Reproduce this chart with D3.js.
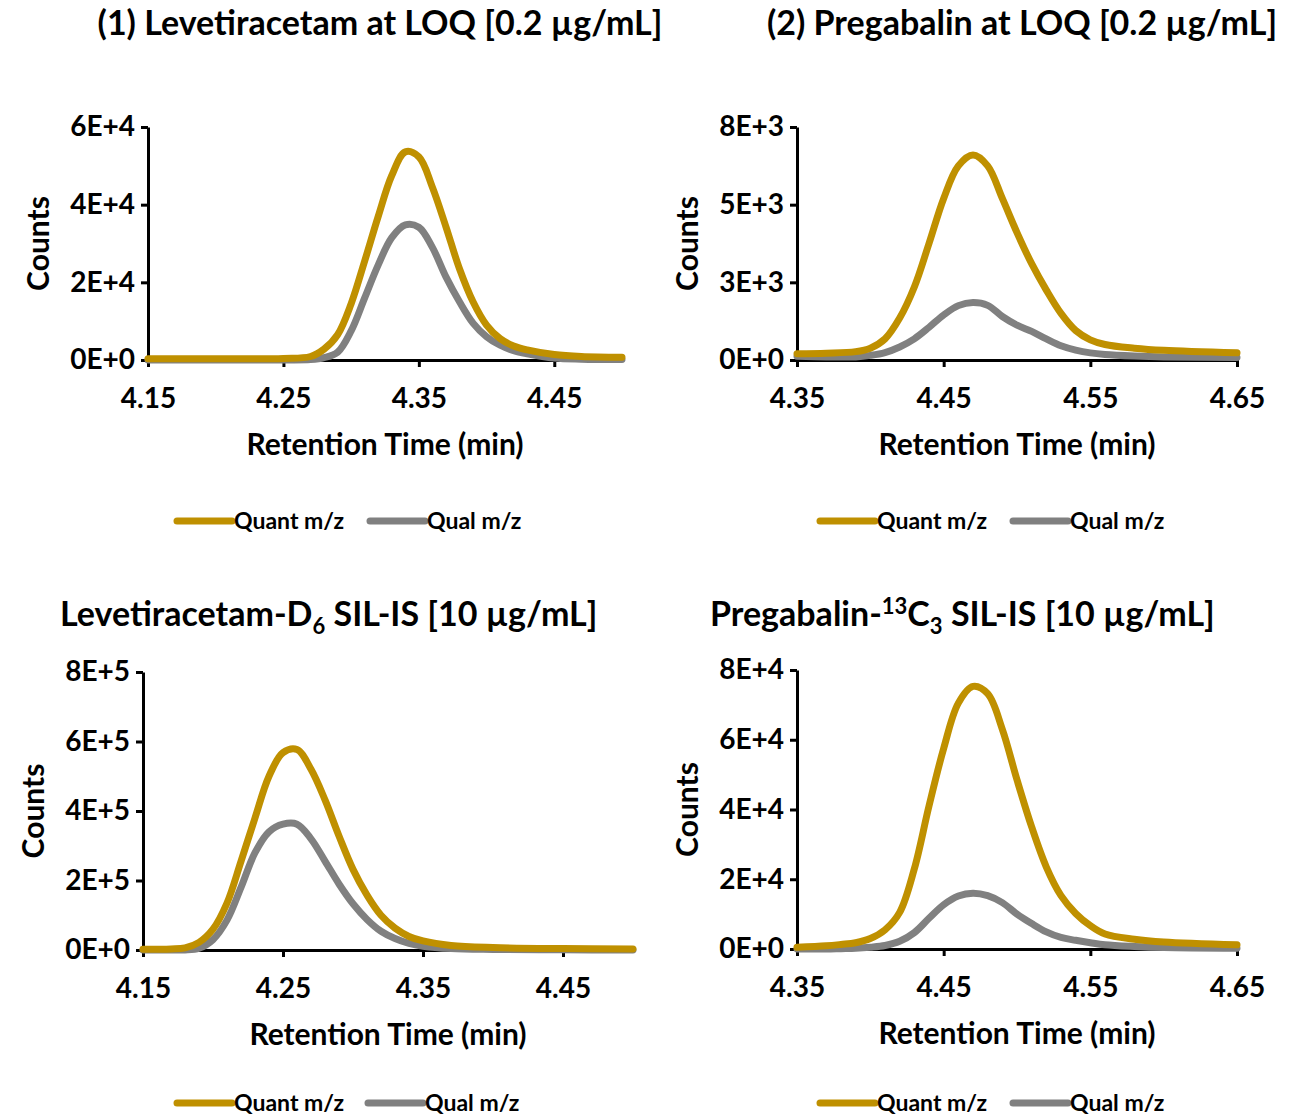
<!DOCTYPE html>
<html><head><meta charset="utf-8">
<script src="https://cdn.jsdelivr.net/npm/d3@7"></script>
<style>body{margin:0;background:#fff} svg{display:block}</style>
</head><body><svg id="c" width="1293" height="1116"></svg>
<script>
// ---------- DATA ----------
const seriesNames = ["Quant m/z", "Qual m/z"];
const seriesColors = ["#BF9000", "#808080"];

// Panel 1: Levetiracetam at LOQ
const p1Time  = [4.15,4.20,4.25,4.27,4.28,4.29,4.30,4.31,4.32,4.33,4.34,4.35,4.36,4.37,4.38,4.39,4.40,4.41,4.42,4.43,4.45,4.47,4.50];
const p1Quant = [300,300,400,900,2800,6500,14500,25500,37000,47500,53600,52300,44500,34300,23500,15000,9000,5500,3600,2600,1400,900,700];
const p1Qual  = [0,0,0,100,600,2000,7500,16000,24500,31500,34800,34200,29000,21400,15000,9500,6000,3800,2400,1600,500,200,100];
const p1YTicks = [0,20000,40000,60000];
const p1YLabels = ["0E+0","2E+4","4E+4","6E+4"];
const p1XTicks = [4.15,4.25,4.35,4.45];
const p1XLabels = ["4.15","4.25","4.35","4.45"];

// Panel 2: Pregabalin at LOQ
const p2Time  = [4.35,4.37,4.39,4.40,4.41,4.42,4.43,4.44,4.45,4.46,4.47,4.48,4.49,4.50,4.51,4.52,4.53,4.54,4.55,4.56,4.58,4.60,4.65];
const p2Quant = [200,220,270,380,680,1350,2350,3750,5200,6250,6600,6250,5200,4100,3100,2250,1500,950,650,500,380,310,230];
const p2Qual  = [120,100,100,150,240,420,680,1050,1450,1750,1850,1760,1400,1120,920,680,460,320,230,180,130,100,80];
const p2YTicks = [0,2500,5000,7500];
const p2YLabels = ["0E+0","3E+3","5E+3","8E+3"];
const p2XTicks = [4.35,4.45,4.55,4.65];
const p2XLabels = ["4.35","4.45","4.55","4.65"];

// Panel 3: Levetiracetam-D6 SIL-IS
const p3Time  = [4.15,4.17,4.18,4.19,4.20,4.21,4.22,4.23,4.24,4.25,4.26,4.27,4.28,4.29,4.30,4.31,4.32,4.33,4.34,4.35,4.37,4.40,4.45,4.50];
const p3Quant = [2000,3000,6000,22000,60000,135000,255000,380000,500000,568000,577000,520000,432000,328000,232000,158000,100000,63000,39000,26000,13000,7000,4000,3000];
const p3Qual  = [0,0,0,5000,30000,86000,180000,280000,340000,362000,362000,320000,256000,190000,133000,88000,54000,33000,19000,11000,4000,1500,500,200];
const p3YTicks = [0,200000,400000,600000,800000];
const p3YLabels = ["0E+0","2E+5","4E+5","6E+5","8E+5"];
const p3XTicks = [4.15,4.25,4.35,4.45];
const p3XLabels = ["4.15","4.25","4.35","4.45"];

// Panel 4: Pregabalin-13C3 SIL-IS
const p4Time  = [4.35,4.37,4.38,4.39,4.40,4.41,4.42,4.43,4.44,4.45,4.46,4.47,4.48,4.49,4.50,4.51,4.52,4.53,4.54,4.55,4.56,4.58,4.60,4.65];
const p4Quant = [500,900,1300,1800,3000,5500,10500,23000,41000,57500,70500,75300,73200,63000,48500,35000,23500,15300,10200,6700,4300,2800,2000,1200];
const p4Qual  = [0,0,100,200,500,1000,2200,4700,8800,12700,15200,16000,15300,13300,10000,7300,4900,3300,2500,1800,1200,700,400,200];
const p4YTicks = [0,20000,40000,60000,80000];
const p4YLabels = ["0E+0","2E+4","4E+4","6E+4","8E+4"];
const p4XTicks = [4.35,4.45,4.55,4.65];
const p4XLabels = ["4.35","4.45","4.55","4.65"];

const xAxisTitle = "Retention Time (min)";
const yAxisTitle = "Counts";

// ---------- LAYOUT ----------
const FONT = "Lato, 'Open Sans', sans-serif";
const svg = d3.select("#c");
svg.append("rect").attr("width",1293).attr("height",1116).attr("fill","#fff");

const panels = [
  {time:p1Time, quant:p1Quant, qual:p1Qual, yT:p1YTicks, yL:p1YLabels, xT:p1XTicks, xL:p1XLabels,
   xDom:[4.15,4.50], yDom:[0,60000], x0:148, x1:622, y0:360, y1:127, legY:521, legX:[177,370]},
  {time:p2Time, quant:p2Quant, qual:p2Qual, yT:p2YTicks, yL:p2YLabels, xT:p2XTicks, xL:p2XLabels,
   xDom:[4.35,4.65], yDom:[0,7500], x0:797, x1:1237, y0:360, y1:127, legY:521, legX:[820,1013]},
  {time:p3Time, quant:p3Quant, qual:p3Qual, yT:p3YTicks, yL:p3YLabels, xT:p3XTicks, xL:p3XLabels,
   xDom:[4.15,4.50], yDom:[0,800000], x0:143, x1:633, y0:950, y1:672, legY:1103, legX:[177,368]},
  {time:p4Time, quant:p4Quant, qual:p4Qual, yT:p4YTicks, yL:p4YLabels, xT:p4XTicks, xL:p4XLabels,
   xDom:[4.35,4.65], yDom:[0,80000], x0:797, x1:1237, y0:949, y1:670, legY:1103, legX:[820,1013]}
];

panels.forEach(p => {
  const x = d3.scaleLinear().domain(p.xDom).range([p.x0, p.x1]);
  const y = d3.scaleLinear().domain(p.yDom).range([p.y0, p.y1]);
  const g = svg.append("g");

  const ya = g.append("g").attr("transform", `translate(${p.x0},0)`)
    .call(d3.axisLeft(y).tickValues(p.yT).tickFormat((d,i)=>p.yL[i]).tickSize(7).tickSizeOuter(0).tickPadding(6));
  const xa = g.append("g").attr("transform", `translate(0,${p.y0})`)
    .call(d3.axisBottom(x).tickValues(p.xT).tickFormat((d,i)=>p.xL[i]).tickSize(7).tickSizeOuter(0).tickPadding(21));
  [ya, xa].forEach(a => {
    a.select(".domain").attr("stroke","#000").attr("stroke-width",3);
    a.selectAll(".tick line").attr("stroke","#000").attr("stroke-width",3);
    a.selectAll("text").attr("fill","#000").style("font-family",FONT).style("font-weight",700).style("font-size","28px");
  });

  g.append("text").attr("x",(p.x0+p.x1)/2).attr("y",p.y0+95).attr("text-anchor","middle")
    .style("font-family",FONT).style("font-weight",700).style("font-size","30px").text(xAxisTitle);
  g.append("text").attr("transform",`translate(${p.x0-99},${(p.y0+p.y1)/2}) rotate(-90)`)
    .attr("text-anchor","middle").style("font-family",FONT).style("font-weight",700).style("font-size","30px").text(yAxisTitle);

  const keys = ["qual","quant"];
  const colors = {quant:seriesColors[0], qual:seriesColors[1]};
  keys.forEach(k => {
    const line = d3.line().x((d,i)=>x(p.time[i])).y(d=>y(d)).curve(d3.curveCatmullRom.alpha(0.5));
    g.append("path").datum(p[k]).attr("d",line).attr("fill","none")
      .attr("stroke",colors[k]).attr("stroke-width",7).attr("stroke-linejoin","round").attr("stroke-linecap","round");
  });

  seriesNames.forEach((n,i) => {
    const lx = p.legX[i];
    g.append("line").attr("x1",lx).attr("x2",lx+55).attr("y1",p.legY).attr("y2",p.legY)
      .attr("stroke",seriesColors[i]).attr("stroke-width",7).attr("stroke-linecap","round");
    g.append("text").attr("x",lx+57).attr("y",p.legY+8).style("font-family",FONT).style("font-weight",700)
      .style("font-size","23px").text(n);
  });
});

// Titles
const tStyle = s => s.style("font-family",FONT).style("font-weight",700).style("font-size","34px").attr("fill","#000");
tStyle(svg.append("text").attr("x",380).attr("y",35).attr("text-anchor","middle")).text("(1) Levetiracetam at LOQ [0.2 µg/mL]");
tStyle(svg.append("text").attr("x",1022).attr("y",35).attr("text-anchor","middle")).text("(2) Pregabalin at LOQ [0.2 µg/mL]");

const t3 = tStyle(svg.append("text").attr("x",60).attr("y",626));
t3.append("tspan").text("Levetiracetam-D");
t3.append("tspan").attr("dy",8).style("font-size","22px").text("6");
t3.append("tspan").attr("dy",-8).text(" SIL-IS [10 µg/mL]");

const t4 = tStyle(svg.append("text").attr("x",710).attr("y",626));
t4.append("tspan").text("Pregabalin-");
t4.append("tspan").attr("dy",-12).style("font-size","22px").text("13");
t4.append("tspan").attr("dy",12).text("C");
t4.append("tspan").attr("dy",8).style("font-size","22px").text("3");
t4.append("tspan").attr("dy",-8).text(" SIL-IS [10 µg/mL]");
</script></body></html>
